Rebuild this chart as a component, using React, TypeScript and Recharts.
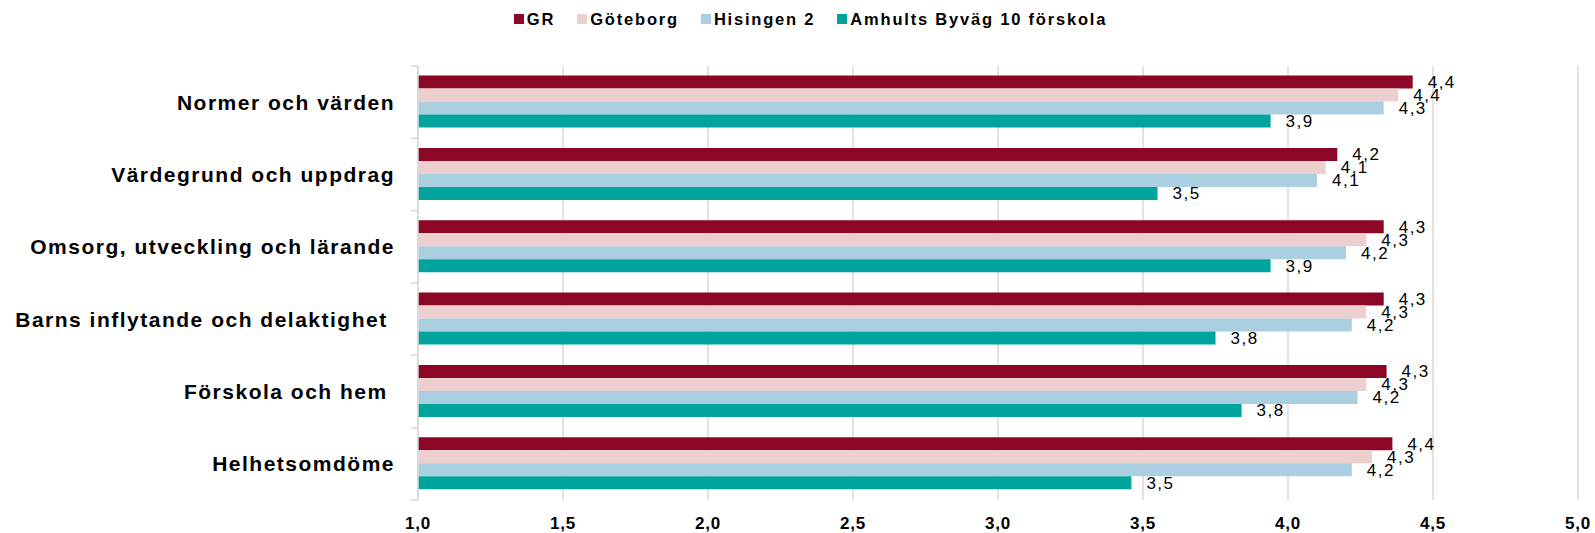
import React from 'react';
import {
  BarChart,
  Bar,
  XAxis,
  YAxis,
  CartesianGrid,
  LabelList,
} from 'recharts';

const categories = [
  'Normer och värden',
  'Värdegrund och uppdrag',
  'Omsorg, utveckling och lärande',
  'Barns inflytande och delaktighet ',
  'Förskola och hem ',
  'Helhetsomdöme',
];

const grValues = [4.43, 4.17, 4.33, 4.33, 4.34, 4.36];
const goteborgValues = [4.38, 4.13, 4.27, 4.27, 4.27, 4.29];
const hisingenValues = [4.33, 4.1, 4.2, 4.22, 4.24, 4.22];
const amhultsValues = [3.94, 3.55, 3.94, 3.75, 3.84, 3.46];

const xTicks = [1, 1.5, 2, 2.5, 3, 3.5, 4, 4.5, 5];

const series = [
  { key: 'gr', name: 'GR', color: '#8C0725' },
  { key: 'goteborg', name: 'Göteborg', color: '#EECFD0' },
  { key: 'hisingen', name: 'Hisingen 2', color: '#AACFE1' },
  { key: 'amhults', name: 'Amhults Byväg 10 förskola', color: '#00A49C' },
];

const data = categories.map((name, i) => ({
  name,
  gr: grValues[i],
  goteborg: goteborgValues[i],
  hisingen: hisingenValues[i],
  amhults: amhultsValues[i],
}));

const WIDTH = 1595;
const HEIGHT = 533;
const TOP = 66;
const AXIS_H = 33;
const Y_AXIS_W = 418;
const FONT = '"Liberation Sans", Arial, sans-serif';
const BAND = (HEIGHT - TOP - AXIS_H) / categories.length;
const GRID = '#D9D9D9';

const comma = (v: number) => v.toFixed(1).replace('.', ',');

const CategoryTick = ({ x, y, payload, index }: any) => {
  const axisX = Y_AXIS_W;
  const label = String(payload.value).replace(/ $/, '\u00a0');
  return (
    <g>
      <line x1={axisX - 7} x2={axisX} y1={y - BAND / 2} y2={y - BAND / 2} stroke={GRID} strokeWidth={1.5} />
      {index === categories.length - 1 && (
        <line x1={axisX - 7} x2={axisX} y1={y + BAND / 2} y2={y + BAND / 2} stroke={GRID} strokeWidth={1.5} />
      )}
      <text
        x={x}
        y={y}
        dy="0.36em"
        textAnchor="end"
        fontFamily={FONT}
        fontWeight="bold"
        fontSize={21}
        letterSpacing={1.5}
        fill="#000"
        style={{ whiteSpace: 'pre' }}
      >
        {label}
      </text>
    </g>
  );
};

const LegendRow = () => (
  <div
    style={{
      position: 'absolute',
      top: 9,
      left: 0,
      width: WIDTH + 26,
      display: 'flex',
      justifyContent: 'center',
      fontFamily: FONT,
      fontWeight: 'bold',
      fontSize: 16.5,
      letterSpacing: 1.8,
      color: '#000',
      lineHeight: '20px',
    }}
  >
    {series.map((s) => (
      <div key={s.key} style={{ display: 'flex', alignItems: 'center', margin: '0 11px' }}>
        <span style={{ width: 10, height: 10, background: s.color, marginRight: 3, display: 'inline-block' }} />
        <span>{s.name}</span>
      </div>
    ))}
  </div>
);

export default function App() {
  return (
    <div style={{ position: 'absolute', left: 0, top: 0, width: WIDTH, height: HEIGHT, background: '#fff' }}>
      <LegendRow />
      <BarChart
        width={WIDTH}
        height={HEIGHT}
        data={data}
        layout="vertical"
        margin={{ top: TOP, right: 17, left: 0, bottom: 0 }}
        barCategoryGap="13.3%"
        barGap={0}
      >
        <CartesianGrid horizontal={false} stroke={GRID} strokeWidth={1.5} />
        <XAxis
          type="number"
          domain={[1, 5]}
          ticks={xTicks}
          tickFormatter={comma}
          axisLine={false}
          tickLine={false}
          tickSize={0}
          tickMargin={17}
          height={AXIS_H}
          interval={0}
          tick={{ fontFamily: FONT, fontWeight: 'bold', fontSize: 17, fill: '#000', letterSpacing: 0.8 }}
        />
        <YAxis
          type="category"
          dataKey="name"
          width={Y_AXIS_W}
          axisLine={{ stroke: GRID, strokeWidth: 1.5 }}
          tickLine={false}
          tickSize={0}
          tickMargin={23}
          interval={0}
          tick={<CategoryTick />}
        />
        {series.map((s) => (
          <Bar key={s.key} dataKey={s.key} name={s.name} fill={s.color} isAnimationActive={false}>
            <LabelList
              dataKey={s.key}
              position="right"
              offset={15}
              formatter={(v: any) => comma(Number(v))}
              style={{ fontFamily: FONT, fontSize: 17, fill: '#000', letterSpacing: 1.5 }}
            />
          </Bar>
        ))}
      </BarChart>
    </div>
  );
}
